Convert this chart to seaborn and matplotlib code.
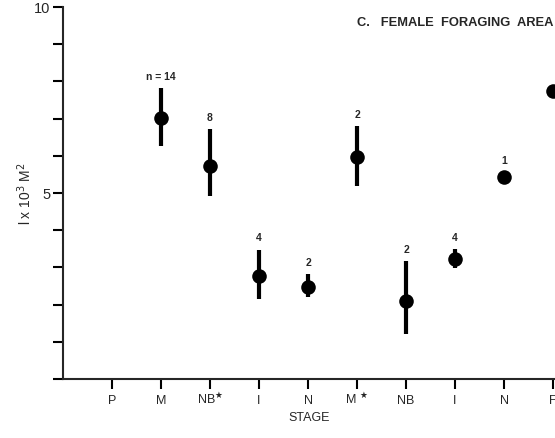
import numpy as np
import pandas as pd
import seaborn as sns
import matplotlib.pyplot as plt
from matplotlib.ticker import MultipleLocator

# data
stages = ["P", "M", "NB$^{\\bigstar}$", "I", "N", "M $^{\\bigstar}$", "NB", "I", "N", "F"]
mean = [np.nan, 7.02, 5.73, 2.77, 2.47, 5.97, 2.10, 3.23, 5.43, 7.74]
upper = [np.nan, 7.82, 6.72, 3.47, 2.82, 6.80, 3.17, 3.49, np.nan, np.nan]
lower = [np.nan, 6.26, 4.92, 2.15, 2.20, 5.19, 1.21, 2.99, np.nan, np.nan]
n_labels = ["", "n = 14", "8", "4", "2", "2", "2", "4", "1", ""]

df = pd.DataFrame({"pos": range(len(stages)), "mean": mean,
                   "upper": upper, "lower": lower, "n": n_labels})

sns.set_style("ticks")
plt.rcParams["font.family"] = ["Liberation Sans", "DejaVu Sans"]

fig = plt.figure(figsize=(5.55, 4.39), dpi=100)
ax = fig.add_axes([0.1135, 0.1344, 0.8865, 0.8474])

# error bars
d = df.dropna(subset=["upper"])
ax.vlines(d["pos"], d["lower"], d["upper"], color="black", lw=3, zorder=2)

sns.scatterplot(x="pos", y="mean", data=df, ax=ax, color="black", s=110,
                edgecolor="black", linewidth=0, zorder=3, clip_on=False)

# sample sizes above each bar
for _, r in df.iterrows():
    if not r["n"]:
        continue
    top = r["upper"] if not np.isnan(r["upper"]) else r["mean"] + 0.12
    ax.text(r["pos"], top + 0.2, r["n"], ha="center", va="bottom",
            fontsize=7.5, fontweight="bold")

ax.set_xlim(-1, 9.04)
ax.set_ylim(0, 10)
ax.set_xticks(df["pos"])
ax.set_xticklabels(stages, fontsize=9)
for lab in ax.get_xticklabels():
    lab.set_va("baseline")
ax.set_yticks([5, 10])
ax.set_yticklabels(["5", "10"], fontsize=10.5)
ax.yaxis.set_minor_locator(MultipleLocator(1))
ax.tick_params(axis="both", which="both", direction="out", length=7,
               width=1.5, color="black")
ax.tick_params(axis="y", pad=2)
ax.tick_params(axis="x", pad=10)
for s in ["top", "right"]:
    ax.spines[s].set_visible(False)
for s in ["left", "bottom"]:
    ax.spines[s].set_linewidth(1.5)

ax.set_xlabel("STAGE", fontsize=9, labelpad=4)
ax.set_ylabel("l x 10$^3$ M$^2$", fontsize=10, labelpad=0)
fig.text(0.643, 0.948, "C.   FEMALE  FORAGING  AREA", fontsize=9.3,
         fontweight="bold", ha="left", va="center")

plt.savefig("out.png", dpi=100)
plt.close()
